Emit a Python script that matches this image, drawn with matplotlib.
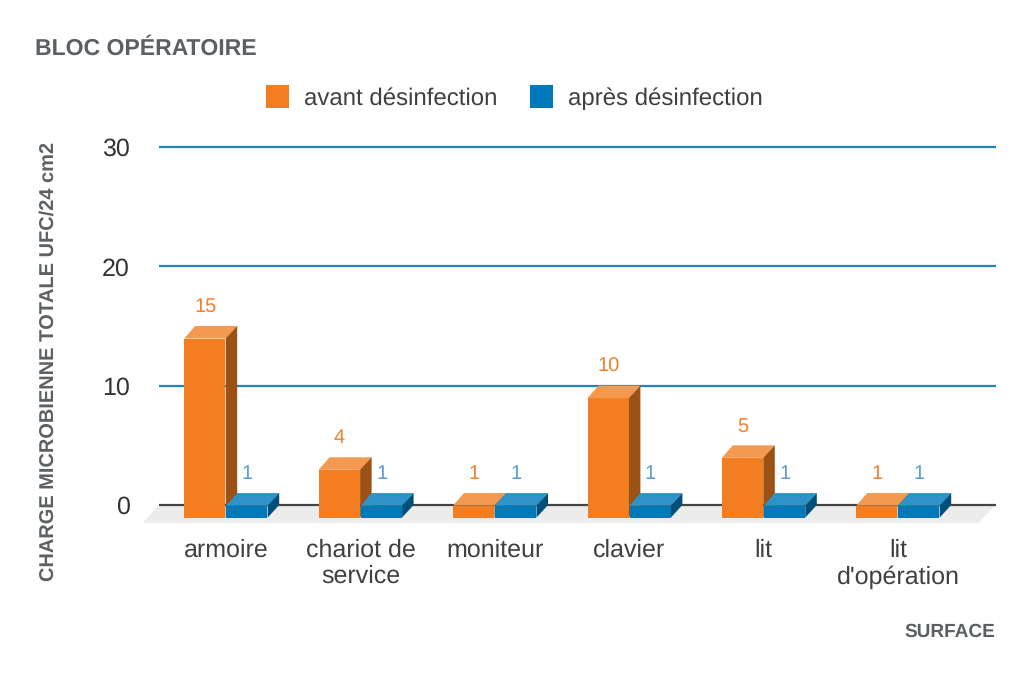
import matplotlib
matplotlib.use("Agg")
import matplotlib.pyplot as plt
from matplotlib.patches import Polygon, Patch

plt.rcParams['font.family'] = ['Liberation Sans', 'DejaVu Sans']
plt.rcParams['text.hinting'] = 'no_hinting'
plt.rcParams['text.hinting_factor'] = 1

title = "BLOC OPÉRATOIRE"
categories = ["armoire", "chariot de\nservice", "moniteur", "clavier", "lit", "lit\nd'opération"]
before = [15, 4, 1, 10, 5, 1]
after = [1, 1, 1, 1, 1, 1]
series_names = ["avant désinfection", "après désinfection"]
y_ticks = [0, 10, 20, 30]
y_label = "CHARGE MICROBIENNE TOTALE UFC/24 cm2"
x_label = "SURFACE"

W, H = 1030, 678
L, R, T, B = 159, 996, 147, 525
PX_Y = 358 / 30   # pixels per value unit
PX_X = 134.4      # pixels per category step

fig = plt.figure(figsize=(W / 100, H / 100), dpi=100, facecolor="white")
ax = fig.add_axes([L / W, 1 - B / H, (R - L) / W, (B - T) / H])
ax.set_xlim(-0.5, -0.5 + (R - L) / PX_X)
ax.set_ylim(-(B - 505) / PX_Y, 30)
for s in ax.spines.values():
    s.set_visible(False)

dx = 11 / PX_X
dy = 12.5 / PX_Y
bw = 42 / PX_X

# floor
ax.add_patch(Polygon([(-0.5 - 16.5 / PX_X, -18 / PX_Y), (-0.5 + 0.0, 0), (ax.get_xlim()[1], 0),
                      (ax.get_xlim()[1] - 18 / PX_X, -18 / PX_Y)],
                     closed=True, fc="#ececec", ec="none", zorder=1, clip_on=False))

ax.set_yticks(y_ticks)
ax.set_xticks(range(len(categories)))
ax.set_xticklabels(categories, linespacing=1.16)
ax.tick_params(axis="y", length=0, pad=21, labelsize=18.3, labelcolor="#333333")
ax.tick_params(axis="x", length=0, pad=10, labelsize=18, labelcolor="#404040")
for v in y_ticks:
    ax.axhline(v, color="#444444" if v == 0 else "#1c86bd", lw=1.6, zorder=2, clip_on=False,
               solid_capstyle="butt")


def bar3d(x, v, front, top, side, zo):
    x0, x1 = x - bw / 2, x + bw / 2
    y0, y1 = -dy, -dy + v
    ax.bar(x - 0.25 / PX_X, v, width=bw - 1.0 / PX_X, bottom=-dy, color=front, zorder=zo, linewidth=0)
    ax.add_patch(Polygon([(x0, y1), (x1, y1), (x1 + dx, y1 + dy), (x0 + dx, y1 + dy)],
                         closed=True, fc=top, ec="none", zorder=zo))
    ax.add_patch(Polygon([(x1 - 0.5 / PX_X, y0), (x1 + dx, y0 + dy), (x1 + dx, y1 + dy), (x1 - 0.5 / PX_X, y1)],
                         closed=True, fc=side, ec="none", zorder=zo))


for i, (a, b) in enumerate(zip(before, after)):
    xa = i - bw / 2
    xb = i + bw / 2
    bar3d(xa, a, "#f27e21", "#f49a50", "#9c5215", 3 + i * 0.01)
    bar3d(xb, b, "#0079bb", "#2e93c8", "#004f7a", 4 + i * 0.01)
    ax.annotate(str(a), (xa, a), xytext=(0, 13.8), textcoords="offset points", ha="center", va="center",
                color="#f0812e", fontsize=14.5, zorder=6)
    ax.annotate(str(b), (xb, b), xytext=(0, 13.8), textcoords="offset points", ha="center", va="center",
                color="#5b9bd5", fontsize=14.5, zorder=6)

fig.text(35 / W, 1 - 55 / H, title, fontsize=16.8, fontweight="bold", color="#5a6064", ha="left", va="baseline")
fig.text(48 / W, 1 - 361.5 / H, y_label, fontsize=14.1, fontweight="bold", color="#5a6064",
         rotation=90, ha="center", va="center")
fig.text(995.5 / W, 1 - 632 / H, x_label, fontsize=14, fontweight="bold", color="#5a6064", ha="right", va="center")

handles = [Patch(fc="#f27e21", ec="#f27e21", lw=1.5, joinstyle="round"),
           Patch(fc="#0079bb", ec="#0079bb", lw=1.5, joinstyle="round")]
fig.legend(handles, series_names, loc="center", bbox_to_anchor=(515 / W, 1 - 98 / H), ncol=2, frameon=False,
           fontsize=17, labelcolor="#404040", handlelength=0.9, handleheight=0.95, handletextpad=0.68,
           columnspacing=1.4, borderpad=0, borderaxespad=0)

fig.savefig("out.png", dpi=100, facecolor="white")
